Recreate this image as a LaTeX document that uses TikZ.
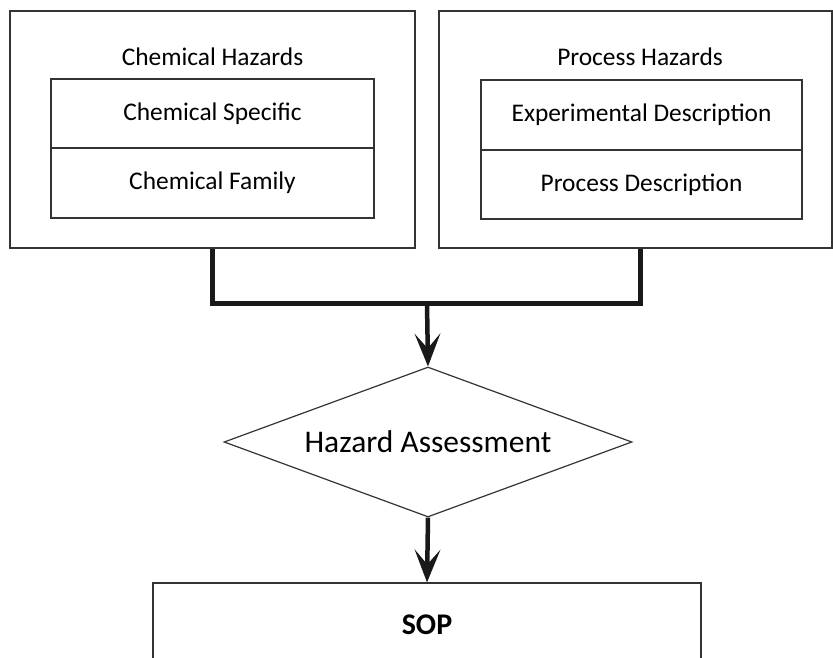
\documentclass[tikz,border=0pt]{standalone}
\usepackage{fontspec}
\setmainfont{Carlito}
\usetikzlibrary{shapes.geometric,arrows.meta}
\begin{document}
\begin{tikzpicture}[x=1pt, y=-1pt,
    framebox/.style={draw=black!80, line width=1.2pt, rectangle, inner sep=0pt},
    cell/.style={framebox, font=\fontsize{25.4}{30}\selectfont},
    boxtitle/.style={font=\fontsize{25.4}{30}\selectfont},
    bus/.style={line width=5pt, black!90},
    arr/.style={bus, line width=4.5pt, -{Stealth[length=33pt, width=26pt, inset=15pt, line width=0pt]}}]
    \clip (0,0) rectangle (833,658);

    % chemical side
    \node[framebox, minimum width=405pt, minimum height=237pt] (chemhaz) at (212.5,129.5) {};
    \node[boxtitle] (chemtitle) at (212.5,57) {Chemical Hazards};
    \node[cell, minimum width=323pt, minimum height=69pt] (chemspec) at (212.5,113.5) {Chemical Specific};
    \node[cell, minimum width=323pt, minimum height=70pt] (chemfam) at (212.5,183) {Chemical Family};

    % process side
    \node[framebox, minimum width=393pt, minimum height=237pt] (prochaz) at (635.5,129.5) {};
    \node[boxtitle] (proctitle) at (640,57) {Process Hazards};
    \node[cell, minimum width=321pt, minimum height=70pt] (expdesc) at (641.5,115) {Experimental Description};
    \node[cell, minimum width=321pt, minimum height=69pt] (procdesc) at (641.5,184.5) {Process Description};

    % assessment and result
    \node[diamond, draw=black!80, line width=1.2pt, aspect=2.72, inner sep=0pt,
          minimum width=408pt, minimum height=150pt,
          font=\fontsize{31.5}{36}\selectfont] (hazassess) at (428,442) {Hazard Assessment};
    \node[framebox, minimum width=548pt, minimum height=84pt,
          font=\bfseries\fontsize{30}{36}\selectfont] (sop) at (427,625) {SOP};

    \coordinate (join) at (427,303);
    \draw[bus] (chemhaz.south) |- (join) -| ([xshift=4.5pt]prochaz.south);
    \draw[arr] (join) -- (hazassess.north);
    \draw[arr] (hazassess.south) -- (sop.north);
\end{tikzpicture}
\end{document}
